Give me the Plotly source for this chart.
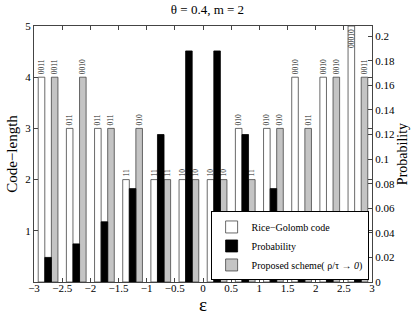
import plotly.graph_objects as go

# ---- data ----
eps_centers = [-2.75, -2.25, -1.75, -1.25, -0.75, -0.25, 0.25, 0.75, 1.25, 1.75, 2.25, 2.75]
rice_len = [4, 3, 3, 2, 2, 2, 2, 3, 3, 4, 4, 5]
rice_codes = ["0011", "011", "011", "11", "11", "10", "10", "010", "010", "0010", "0010", "00010"]
probability = [0.020, 0.031, 0.049, 0.076, 0.120, 0.188, 0.188, 0.120, 0.076, 0.049, 0.031, 0.020]
proposed_len = [4, 4, 3, 3, 2, 2, 2, 2, 3, 3, 4, 4]
proposed_codes = ["0011", "0010", "011", "010", "11", "10", "10", "11", "010", "011", "0010", "0011"]

x_ticks = [-3, -2.5, -2, -1.5, -1, -0.5, 0, 0.5, 1, 1.5, 2, 2.5, 3]
x_ticklabels = ["\u22123", "\u22122.5", "\u22122", "\u22121.5", "\u22121", "\u22120.5", "0", "0.5", "1", "1.5", "2", "2.5", "3"]
left_ticks = [1, 2, 3, 4, 5]
right_ticks = [0, 0.02, 0.04, 0.06, 0.08, 0.1, 0.12, 0.14, 0.16, 0.18, 0.2]
right_ticklabels = ["0", "0.02", "0.04", "0.06", "0.08", "0.1", "0.12", "0.14", "0.16", "0.18", "0.2"]

FONT = "Liberation Serif, Times New Roman, DejaVu Serif, serif"
BW = 0.1167
EDGE = "#444444"

fig = go.Figure()

rice_pos = ["inside" if v >= 5 else "outside" for v in rice_len]
fig.add_trace(go.Bar(
    x=eps_centers, y=rice_len, name="Rice\u2212Golomb code",
    width=BW, offset=-1.5 * BW,
    marker=dict(color="white", line=dict(color=EDGE, width=0.8)),
    text=rice_codes, textposition=rice_pos, textangle=-90,
    insidetextanchor="end", constraintext="none", cliponaxis=False,
    textfont=dict(family=FONT, size=7.5, color="#222222"),
))
fig.add_trace(go.Bar(
    x=eps_centers, y=probability, name="Probability", yaxis="y2",
    width=BW, offset=-0.5 * BW,
    marker=dict(color="black", line=dict(color="black", width=0.8)),
))
fig.add_trace(go.Bar(
    x=eps_centers, y=proposed_len, name="Proposed scheme( \u03c1/\u03c4 \u2192 <i>0</i>)",
    width=BW, offset=0.5 * BW,
    marker=dict(color="#c4c4c4", line=dict(color=EDGE, width=0.8)),
    text=proposed_codes, textposition="outside", textangle=-90,
    constraintext="none", cliponaxis=False,
    textfont=dict(family=FONT, size=7.5, color="#222222"),
))

fig.update_layout(
    width=415, height=317,
    margin=dict(l=34, r=43, t=26, b=35, autoexpand=False),
    paper_bgcolor="white", plot_bgcolor="white",
    font=dict(family=FONT, size=11, color="black"),
    barmode="overlay",
    title=dict(text="\u03b8 = 0.4, m = 2", x=0.5, xanchor="center", y=0.985, yanchor="top",
               font=dict(family=FONT, size=13)),
    showlegend=True,
    legend=dict(x=0.99, y=0.006, xanchor="right", yanchor="bottom",
                bgcolor="white", bordercolor="black", borderwidth=1,
                font=dict(family=FONT, size=10), tracegroupgap=0,
                itemwidth=30),
    xaxis=dict(range=[-3, 3], tickvals=x_ticks, ticktext=x_ticklabels,
               ticks="inside", ticklen=4, tickcolor="#444", mirror="ticks",
               showline=True, linecolor="#444", linewidth=1, showgrid=False, zeroline=False,
               tickfont=dict(family=FONT, size=11), ticklabelstandoff=-4,
               title=dict(text="\u03b5", font=dict(family=FONT, size=19), standoff=0)),
    yaxis=dict(range=[0, 5], tickvals=left_ticks, ticks="inside", ticklen=4, tickcolor="#444",
               mirror="ticks", showline=True, linecolor="#444", linewidth=1,
               showgrid=False, zeroline=False, tickfont=dict(family=FONT, size=11),
               title=dict(text="Code\u2212length", font=dict(family=FONT, size=15), standoff=4)),
    yaxis2=dict(range=[0, 0.2083], overlaying="y", side="right", tickvals=right_ticks,
                ticktext=right_ticklabels,
                ticks="inside", ticklen=4, tickcolor="#444", showline=True, linecolor="#444",
                showgrid=False, zeroline=False, tickfont=dict(family=FONT, size=11),
                title=dict(text="Probability", font=dict(family=FONT, size=14), standoff=2)),
)

fig.write_html("out.html", config={"displayModeBar": False},
               post_script="document.body.style.margin='0';document.body.style.overflow='hidden';")
